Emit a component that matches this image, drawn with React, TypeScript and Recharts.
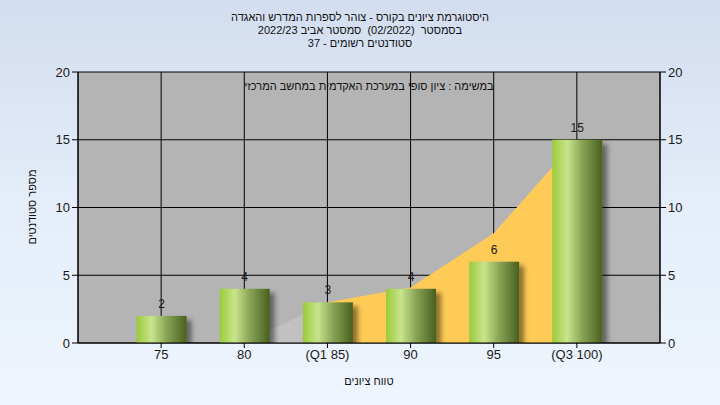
import React from 'react';
import {
  ComposedChart,
  Bar,
  Area,
  XAxis,
  YAxis,
  CartesianGrid,
  LabelList,
} from 'recharts';

const grades = [75, 80, 85, 90, 95, 100];
const gradeLabels = ['75', '80', '(Q1 85)', '90', '95', '(Q3 100)'];
const counts = [2, 4, 3, 4, 6, 15];
const lowerCurve: (number | null)[] = [null, 0, 3, null, null, null];
const upperCurve: (number | null)[] = [null, null, 3, 4.1, 8.1, 15];
const yTicks = [0, 5, 10, 15, 20];

const titleLines = [
  'היסטוגרמת ציונים בקורס - צוהר לספרות המדרש והאגדה',
  'בסמסטר  (02/2022)  סמסטר אביב 2022/23',
  'סטודנטים רשומים - 37',
];
const innerLabel = 'במשימה : ציון סופי במערכת האקדמית במחשב המרכזי';
const xTitle = 'טווח ציונים';
const yTitle = 'מספר סטודנטים';

const data = grades.map((g, i) => ({
  grade: g,
  count: counts[i],
  lower: lowerCurve[i],
  upper: upperCurve[i],
}));

const labelFor = (v: number) => {
  const i = grades.indexOf(v);
  return i >= 0 ? gradeLabels[i] : String(v);
};

const FONT = '"Liberation Sans", Arial, "DejaVu Sans", sans-serif';

const BarShape = (props: any) => {
  const { x, y, width, height } = props;
  if (!height || height <= 0) return null;
  return (
    <rect
      x={x}
      y={y}
      width={width}
      height={height}
      fill="url(#barGrad)"
      filter="url(#barShadow)"
    />
  );
};

export default function App() {
  return (
    <div
      style={{
        position: 'absolute',
        left: 0,
        top: 0,
        width: 720,
        height: 405,
        background: 'linear-gradient(to bottom, #d2ddef 0%, #e4edf9 50%, #eef5fd 100%)',
        fontFamily: FONT,
        overflow: 'hidden',
      }}
    >
      <div
        dir="rtl"
        style={{
          position: 'absolute',
          left: 0,
          top: 11,
          width: 720,
          textAlign: 'center',
          fontSize: 11,
          lineHeight: '13px',
          color: '#111',
        }}
      >
        {titleLines.map((t, i) => (
          <div key={i} style={{ whiteSpace: 'pre' }}>
            {t}
          </div>
        ))}
      </div>
      <div style={{ position: 'absolute', left: 0, top: 0 }}>
        <ComposedChart
          width={720}
          height={405}
          data={data}
          margin={{ top: 72, right: 20, bottom: 32, left: 38 }}
        >
          <defs>
            <linearGradient id="barGrad" x1="0" y1="0" x2="1" y2="0">
              <stop offset="0%" stopColor="#9acb3a" />
              <stop offset="30%" stopColor="#c8e48c" />
              <stop offset="60%" stopColor="#8aa456" />
              <stop offset="100%" stopColor="#48601e" />
            </linearGradient>
            <filter id="barShadow" x="-20%" y="-20%" width="150%" height="150%">
              <feDropShadow dx="5" dy="4" stdDeviation="2.5" floodColor="#000" floodOpacity="0.45" />
            </filter>
          </defs>
          <CartesianGrid stroke="#000" strokeWidth={1} fill="#b4b4b4" fillOpacity={1} />
          <XAxis
            dataKey="grade"
            type="number"
            domain={[70, 105]}
            ticks={grades}
            tickFormatter={labelFor}
            allowDataOverflow
            axisLine={{ stroke: '#000' }}
            tickLine={{ stroke: '#000' }}
            tickSize={5}
            tick={{ fill: '#1a1a1a', fontSize: 13, fontFamily: FONT }}
            height={30}
          />
          <YAxis
            domain={[0, 20]}
            ticks={yTicks}
            allowDataOverflow
            axisLine={{ stroke: '#000' }}
            tickLine={{ stroke: '#000' }}
            tickSize={6}
            tick={{ fill: '#1a1a1a', fontSize: 13, fontFamily: FONT }}
            width={40}
          />
          <YAxis
            yAxisId="right"
            orientation="right"
            domain={[0, 20]}
            ticks={yTicks}
            allowDataOverflow
            axisLine={{ stroke: '#000' }}
            tickLine={{ stroke: '#000' }}
            tickSize={6}
            tick={{ fill: '#1a1a1a', fontSize: 13, fontFamily: FONT }}
            width={40}
          />
          <Area
            type="linear"
            dataKey="lower"
            stroke="none"
            fill="#c1c1c1"
            fillOpacity={1}
            isAnimationActive={false}
            dot={false}
            activeDot={false}
          />
          <Area
            type="linear"
            dataKey="upper"
            stroke="none"
            fill="#ffcb57"
            fillOpacity={1}
            isAnimationActive={false}
            dot={false}
            activeDot={false}
          />
          <Bar dataKey="count" barSize={50} shape={BarShape} isAnimationActive={false}>
            <LabelList
              dataKey="count"
              position="top"
              offset={8}
              fill="#1a1a1a"
              fontSize={12}
              fontFamily={FONT}
            />
          </Bar>
        </ComposedChart>
      </div>
      <div
        dir="rtl"
        style={{
          position: 'absolute',
          left: 78,
          width: 582,
          top: 79,
          textAlign: 'center',
          fontSize: 11,
          lineHeight: '14px',
          color: '#111',
        }}
      >
        {innerLabel}
      </div>
      <div
        dir="rtl"
        style={{
          position: 'absolute',
          left: 78,
          width: 582,
          top: 374,
          textAlign: 'center',
          fontSize: 11,
          lineHeight: '14px',
          color: '#111',
        }}
      >
        {xTitle}
      </div>
      <div
        dir="rtl"
        style={{
          position: 'absolute',
          left: 32 - 60,
          top: 207 - 7,
          width: 120,
          textAlign: 'center',
          fontSize: 11,
          lineHeight: '14px',
          color: '#111',
          transform: 'rotate(-90deg)',
        }}
      >
        {yTitle}
      </div>
    </div>
  );
}
